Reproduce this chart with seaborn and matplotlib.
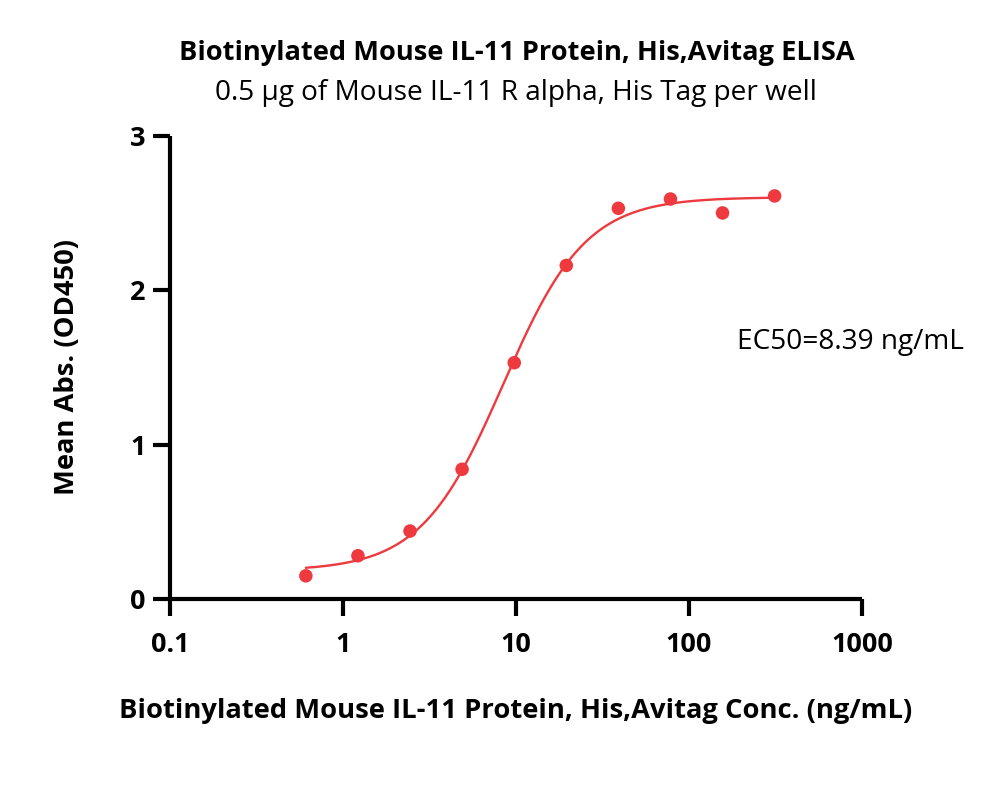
import numpy as np
import pandas as pd
import matplotlib
matplotlib.use("Agg")
import matplotlib.pyplot as plt
import seaborn as sns

# ---- data ----
conc = [0.61, 1.22, 2.44, 4.88, 9.77, 19.53, 39.06, 78.13, 156.25, 312.5]
od450 = [0.15, 0.28, 0.44, 0.84, 1.53, 2.16, 2.53, 2.59, 2.50, 2.61]
xticks = [0.1, 1, 10, 100, 1000]
xticklabels = ["0.1", "1", "10", "100", "1000"]
yticks = [0, 1, 2, 3]
title = "Biotinylated Mouse IL-11 Protein, His,Avitag ELISA"
subtitle = "0.5 \u03bcg of Mouse IL-11 R alpha, His Tag per well"
xlabel = "Biotinylated Mouse IL-11 Protein, His,Avitag Conc. (ng/mL)"
ylabel = "Mean Abs. (OD450)"
ec50_text = "EC50=8.39 ng/mL"

RED = "#EE3A3E"

sns.set_theme(style="white")
plt.rcParams["font.family"] = ["Open Sans", "DejaVu Sans"]
plt.rcParams["text.color"] = "black"
plt.rcParams["axes.labelcolor"] = "black"
plt.rcParams["xtick.color"] = "black"
plt.rcParams["ytick.color"] = "black"

df = pd.DataFrame({"conc": conc, "od": od450})

# ---- 4PL fit (grid over hill & EC50, linear solve for bottom/top) ----
x = np.array(conc)
y = np.array(od450)
best = None
for hill in np.linspace(0.8, 3.0, 111):
    for lec in np.linspace(np.log10(2), np.log10(30), 221):
        f = 1.0 / (1.0 + (10 ** lec / x) ** hill)
        A = np.column_stack([1 - f, f])
        coef, *_ = np.linalg.lstsq(A, y, rcond=None)
        r = np.sum((A @ coef - y) ** 2)
        if best is None or r < best[0]:
            best = (r, hill, lec, coef)
_, hill, lec, (bottom, top) = best
xf = np.logspace(np.log10(min(conc)), np.log10(max(conc)), 300)
yf = bottom + (top - bottom) / (1.0 + (10 ** lec / xf) ** hill)
fit = pd.DataFrame({"conc": xf, "od": yf})

fig = plt.figure(figsize=(10, 7.96), dpi=100)
ax = fig.add_axes([0.17, 0.2475, 0.692, 0.582])

sns.lineplot(data=fit, x="conc", y="od", ax=ax, color=RED, linewidth=1.7)
sns.scatterplot(data=df, x="conc", y="od", ax=ax, color=RED, s=95,
                edgecolor="none", zorder=3)

ax.set_xscale("log")
ax.set_xlim(0.1, 1000)
ax.set_ylim(0, 3)
ax.set_xticks(xticks)
ax.set_xticklabels(xticklabels)
ax.set_yticks(yticks)
ax.xaxis.set_minor_locator(matplotlib.ticker.NullLocator())
ax.yaxis.set_minor_locator(matplotlib.ticker.NullLocator())

for s in ["top", "right"]:
    ax.spines[s].set_visible(False)
for s in ["left", "bottom"]:
    ax.spines[s].set_linewidth(3)
    ax.spines[s].set_color("black")
    ax.spines[s].set_capstyle("butt")

ax.tick_params(axis="both", which="major", bottom=True, left=True,
               length=12.5, width=3, color="black", direction="out",
               labelsize=19.5, labelcolor="black")
ax.tick_params(axis="x", pad=11)
ax.tick_params(axis="y", pad=5)
for lbl in ax.get_xticklabels() + ax.get_yticklabels():
    lbl.set_fontweight("bold")

ax.set_xlabel(xlabel, fontsize=19.7, fontweight="bold", labelpad=29)
ax.set_ylabel(ylabel, fontsize=19.7, fontweight="bold", labelpad=36)

fig.text(0.517, 0.933, title, ha="center", va="center", fontsize=19.6,
         fontweight="bold")
fig.text(0.516, 0.883, subtitle, ha="center", va="center", fontsize=20.2)
fig.text(0.737, 0.570, ec50_text, ha="left", va="center", fontsize=20.2)

fig.savefig("out.png", dpi=100, facecolor="white")
